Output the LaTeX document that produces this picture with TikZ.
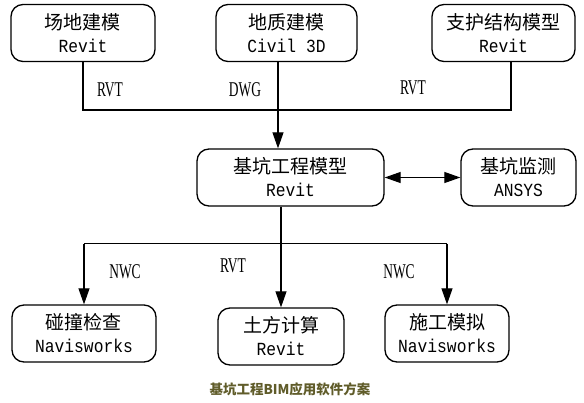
\documentclass[tikz,border=0pt]{standalone}
\usepackage{fontspec}
\setmainfont{Liberation Serif}
\newfontfamily\cjk{Noto Sans CJK SC}
\newfontfamily\mono[FakeStretch=0.88]{Liberation Mono}
\newfontfamily\tagfont[FakeStretch=0.64]{Liberation Serif}
\usetikzlibrary{arrows.meta}
\definecolor{capcolor}{RGB}{96,92,42}
\newcommand{\boxtext}[2]{{\cjk #1}\\{\fontsize{18.5}{22}\mono #2}}

\begin{document}
\begin{tikzpicture}[x=1pt, y=-1pt,
    box/.style={draw, rounded corners=12pt, line width=1.3pt, align=center, inner sep=0pt,
        minimum height=57pt, font=\fontsize{19}{23}\selectfont},
    tag/.style={font=\fontsize{21}{21}\tagfont},
    link/.style={line width=1.1pt},
    arr/.style={link, -{Triangle[length=16pt, width=11pt]}}]
    \useasboundingbox (0,0) rectangle (584,402);
    \node[box, minimum width=144pt] (site) at (83,33) {\boxtext{场地建模}{Revit}};
    \node[box, minimum width=141pt] (geo) at (286.5,33) {\boxtext{地质建模}{Civil 3D}};
    \node[box, minimum width=143pt] (support) at (503.5,33) {\boxtext{支护结构模型}{Revit}};
    \node[box, minimum width=187pt] (pit) at (290.5,177.5) {\boxtext{基坑工程模型}{Revit}};
    \node[box, minimum width=115pt] (monitor) at (518.5,177.5) {\boxtext{基坑监测}{ANSYS}};
    \node[box, minimum width=144pt] (clash) at (84,333.5) {\boxtext{碰撞检查}{Navisworks}};
    \node[box, minimum width=126pt] (earth) at (281,336.5) {\boxtext{土方计算}{Revit}};
    \node[box, minimum width=124pt] (sim) at (447,333.5) {\boxtext{施工模拟}{Navisworks}};
    \coordinate (topbus) at (278,110);
    \coordinate (lowbus) at (282,243.5);
    \draw [link] (site.south) |- (topbus);
    \draw [link] ([xshift=7.5pt]support.south) |- (topbus);
    \draw [arr] ([xshift=-8.5pt]geo.south) -- ([xshift=-12.5pt]pit.north);
    \draw [arr] (pit.south -| earth.north) -- (earth.north);
    \draw [link] (lowbus -| clash.north) -- (lowbus -| sim.north);
    \draw [arr] (lowbus -| clash.north) -- (clash.north);
    \draw [arr] (lowbus -| sim.north) -- (sim.north);
    \draw [link, {Triangle[length=16pt, width=11pt]}-{Triangle[length=16pt, width=11pt]}] (pit) -- (monitor);
    \node[tag] (rvtsite) at (110,90) {RVT};
    \node[tag] (dwg) at (245,90) {DWG};
    \node[tag] (rvtsupport) at (413,88) {RVT};
    \node[tag] (nwcclash) at (125,272) {NWC};
    \node[tag] (rvtearth) at (233,266) {RVT};
    \node[tag] (nwcsim) at (399,272) {NWC};
    \node[font=\fontsize{13.5}{13.5}\cjk\bfseries, text=capcolor] (caption) at (290,389) {基坑工程BIM应用软件方案};
\end{tikzpicture}
\end{document}
